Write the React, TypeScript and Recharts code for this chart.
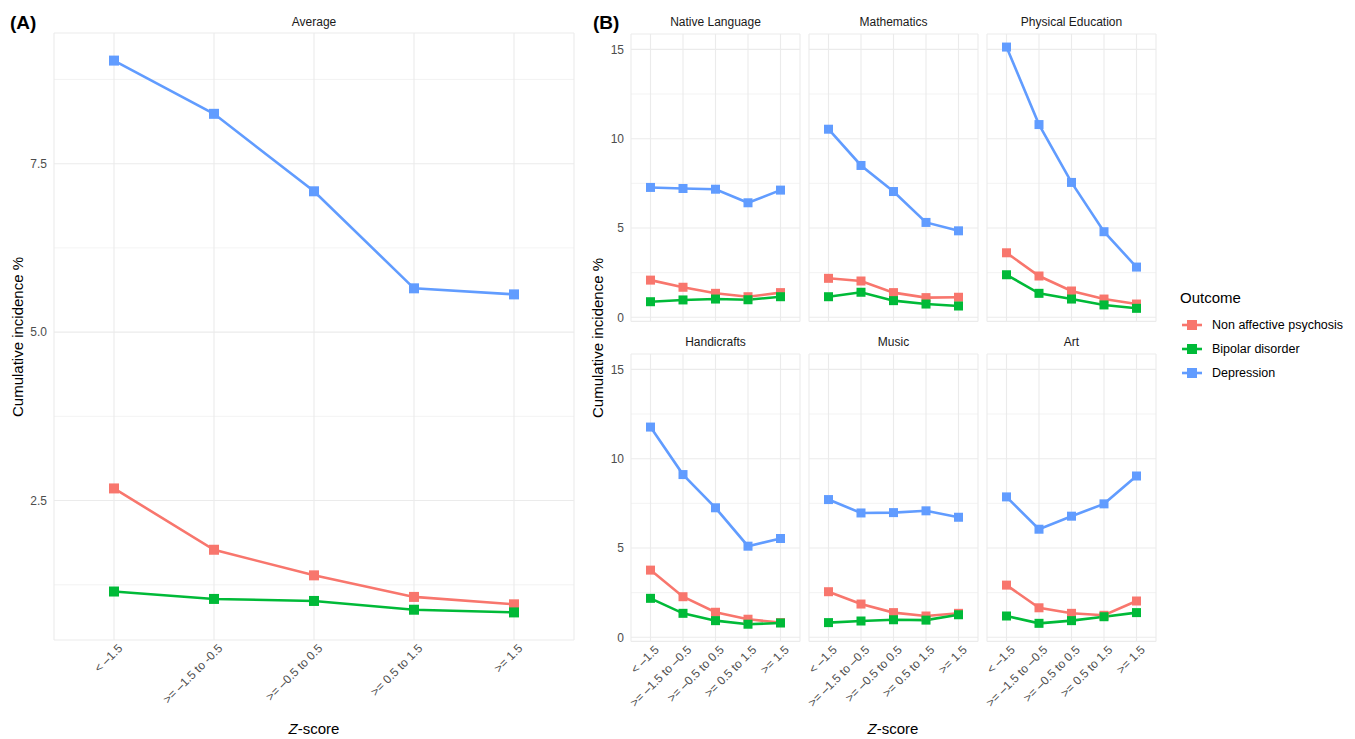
import { CartesianGrid, Line, LineChart, ReferenceLine, XAxis, YAxis } from "recharts";

const FONT = "'Liberation Sans', Arial, Helvetica, sans-serif";

const RED = "#F8766D";
const GREEN = "#00BA38";
const BLUE = "#619CFF";

// x categories (Z-score groups)
const categoriesA = ["< –1.5", ">= –1.5 to -0.5", ">= –0.5 to 0.5", ">= 0.5 to 1.5", ">= 1.5"];
const categoriesB = ["< –1.5", ">= –1.5 to –0.5", ">= –0.5 to 0.5", ">= 0.5 to 1.5", ">= 1.5"];

// (A) average
const avgPsychosis = [2.68, 1.77, 1.39, 1.07, 0.96];
const avgBipolar = [1.15, 1.04, 1.01, 0.88, 0.84];
const avgDepression = [9.03, 8.24, 7.09, 5.65, 5.56];

// (B) per subject
const nativePsychosis = [2.08, 1.68, 1.34, 1.15, 1.38];
const nativeBipolar = [0.87, 0.97, 1.02, 0.98, 1.15];
const nativeDepression = [7.27, 7.21, 7.17, 6.41, 7.12];

const mathPsychosis = [2.18, 2.03, 1.38, 1.1, 1.12];
const mathBipolar = [1.15, 1.4, 0.93, 0.74, 0.63];
const mathDepression = [10.53, 8.5, 7.04, 5.31, 4.84];

const pePsychosis = [3.61, 2.31, 1.47, 1.02, 0.74];
const peBipolar = [2.38, 1.34, 1.02, 0.69, 0.5];
const peDepression = [15.13, 10.79, 7.55, 4.79, 2.81];

const craftPsychosis = [3.76, 2.27, 1.4, 1.01, 0.82];
const craftBipolar = [2.18, 1.34, 0.93, 0.73, 0.8];
const craftDepression = [11.77, 9.11, 7.25, 5.1, 5.53];

const musicPsychosis = [2.55, 1.86, 1.38, 1.19, 1.34];
const musicBipolar = [0.82, 0.91, 0.98, 0.96, 1.26];
const musicDepression = [7.71, 6.96, 6.98, 7.08, 6.72];

const artPsychosis = [2.92, 1.65, 1.34, 1.23, 2.03];
const artBipolar = [1.19, 0.78, 0.93, 1.15, 1.38];
const artDepression = [7.86, 6.05, 6.78, 7.47, 9.03];

const outcomes = ["Non affective psychosis", "Bipolar disorder", "Depression"];
const outcomeColors = [RED, GREEN, BLUE];

const subjects = [
  { name: "Native Language", series: [nativePsychosis, nativeBipolar, nativeDepression] },
  { name: "Mathematics", series: [mathPsychosis, mathBipolar, mathDepression] },
  { name: "Physical Education", series: [pePsychosis, peBipolar, peDepression] },
  { name: "Handicrafts", series: [craftPsychosis, craftBipolar, craftDepression] },
  { name: "Music", series: [musicPsychosis, musicBipolar, musicDepression] },
  { name: "Art", series: [artPsychosis, artBipolar, artDepression] },
];

const buildRows = (cats: string[], series: number[][]) =>
  cats.map((cat, i) => ({ cat, s0: series[0][i], s1: series[1][i], s2: series[2][i] }));

// ggplot style 5% expansion
const expand = (all: number[]): [number, number] => {
  const lo = Math.min(...all);
  const hi = Math.max(...all);
  const pad = (hi - lo) * 0.05;
  return [lo - pad, hi + pad];
};

const domainA = expand([...avgPsychosis, ...avgBipolar, ...avgDepression]);
const domainB = expand(subjects.flatMap((s) => s.series.flat()));

const squareDot = (color: string, size: number) => (props: any) => {
  const { cx, cy, index } = props;
  if (cx == null || cy == null) return <g key={index} />;
  return <rect key={index} x={cx - size / 2} y={cy - size / 2} width={size} height={size} fill={color} />;
};

const RotatedTick = (props: any) => {
  const { x, y, payload } = props;
  return (
    <g transform={`translate(${x + 3},${y + 3})`}>
      <text transform="rotate(-45)" textAnchor="end" dy="0.72em" fontSize={12} fill="#4d4d4d" fontFamily={FONT}>
        {payload.value}
      </text>
    </g>
  );
};

const EmptyTick = () => <g />;

interface FacetProps {
  left: number;
  top: number;
  plotW: number;
  plotH: number;
  yAxisW: number;
  rows: any[];
  domain: [number, number];
  ticks: number[];
  minor: number[];
  showY: boolean;
  showX: boolean;
  dotSize: number;
  fmt: (v: number) => string;
}

const Facet = (props: FacetProps) => {
  const { left, top, plotW, plotH, yAxisW, rows, domain, ticks, minor, showY, showX, dotSize, fmt } = props;
  const xh = showX ? 100 : 1;
  const pad = (0.6 / 5.2) * plotW;
  return (
    <div style={{ position: "absolute", left: left - (showY ? yAxisW : 0), top }}>
      <LineChart
        width={plotW + (showY ? yAxisW : 0)}
        height={plotH + xh}
        data={rows}
        margin={{ top: 0, right: 0, bottom: 0, left: 0 }}
      >
        <CartesianGrid stroke="#ebebeb" strokeWidth={1.1} />
        {minor.map((v) => (
          <ReferenceLine key={v} y={v} stroke="#ebebeb" strokeWidth={0.6} />
        ))}
        <XAxis
          dataKey="cat"
          interval={0}
          padding={{ left: pad, right: pad }}
          axisLine={false}
          tickLine={false}
          tickSize={0}
          tickMargin={0}
          height={xh}
          tick={showX ? <RotatedTick /> : <EmptyTick />}
        />
        <YAxis
          type="number"
          domain={domain}
          ticks={ticks}
          interval={0}
          hide={!showY}
          width={yAxisW}
          axisLine={false}
          tickLine={false}
          tickSize={4}
          tickMargin={3}
          tickFormatter={fmt}
          tick={{ fontSize: 12, fill: "#4d4d4d", fontFamily: FONT }}
        />
        {outcomeColors.map((c, i) => (
          <Line
            key={i}
            dataKey={`s${i}`}
            stroke={c}
            strokeWidth={2.6}
            dot={squareDot(c, dotSize)}
            activeDot={false}
            isAnimationActive={false}
          />
        ))}
      </LineChart>
    </div>
  );
};

const Text = (p: { x: number; y: number; size: number; children: any; bold?: boolean; rotate?: boolean; color?: string; align?: string }) => (
  <div
    style={{
      position: "absolute",
      left: p.x,
      top: p.y,
      transform: `translate(${p.align === "left" ? "0" : "-50%"},-50%)${p.rotate ? " rotate(-90deg)" : ""}`,
      fontSize: p.size,
      fontWeight: p.bold ? 700 : 400,
      color: p.color ?? "#000",
      whiteSpace: "nowrap",
      lineHeight: 1,
    }}
  >
    {p.children}
  </div>
);

const colLefts = [631, 809, 987];
const rowTops = [34, 354];
const PLOT_W_B = 169;
const PLOT_H_B = 287.4;

export default function App() {
  return (
    <div style={{ position: "absolute", left: 0, top: 0, width: 1355, height: 739, background: "#fff", fontFamily: FONT }}>
      <style>{`.recharts-surface, .recharts-wrapper { overflow: visible !important; }`}</style>
      {/* (A) */}
      <Text x={10} y={22} size={19} bold align="left">(A)</Text>
      <Text x={314} y={22} size={12} color="#1a1a1a">Average</Text>
      <Text x={17} y={337} size={15} rotate>Cumulative incidence %</Text>
      <Facet
        left={54}
        top={33}
        plotW={520}
        plotH={607}
        yAxisW={54}
        rows={buildRows(categoriesA, [avgPsychosis, avgBipolar, avgDepression])}
        domain={domainA}
        ticks={[2.5, 5, 7.5]}
        minor={[1.25, 3.75, 6.25, 8.75]}
        showY
        showX
        dotSize={10}
        fmt={(v) => v.toFixed(1)}
      />
      <Text x={314} y={728} size={15}><i>Z</i>-score</Text>

      {/* (B) */}
      <Text x={593} y={22} size={19} bold align="left">(B)</Text>
      <Text x={597} y={338} size={15} rotate>Cumulative incidence %</Text>
      {subjects.map((s, i) => {
        const col = i % 3;
        const row = Math.floor(i / 3);
        return (
          <div key={s.name}>
            <Text x={colLefts[col] + PLOT_W_B / 2} y={rowTops[row] - 12} size={12} color="#1a1a1a">{s.name}</Text>
            <Facet
              left={colLefts[col]}
              top={rowTops[row]}
              plotW={PLOT_W_B}
              plotH={PLOT_H_B}
              yAxisW={30}
              rows={buildRows(categoriesB, s.series)}
              domain={domainB}
              ticks={[0, 5, 10, 15]}
              minor={[2.5, 7.5, 12.5]}
              showY={col === 0}
              showX={row === 1}
              dotSize={9}
              fmt={(v) => String(v)}
            />
          </div>
        );
      })}
      <Text x={893} y={728} size={15}><i>Z</i>-score</Text>

      {/* legend */}
      <Text x={1180} y={297} size={15} align="left">Outcome</Text>
      {outcomes.map((o, i) => (
        <div key={o} style={{ position: "absolute", left: 1180, top: 325 + i * 24 - 9, display: "flex", alignItems: "center", height: 18 }}>
          <svg width={24} height={18}>
            <line x1={2} x2={22} y1={9} y2={9} stroke={outcomeColors[i]} strokeWidth={2.6} />
            <rect x={7} y={4} width={10} height={10} fill={outcomeColors[i]} />
          </svg>
          <span style={{ marginLeft: 8, fontSize: 12.5, color: "#000" }}>{o}</span>
        </div>
      ))}
    </div>
  );
}
